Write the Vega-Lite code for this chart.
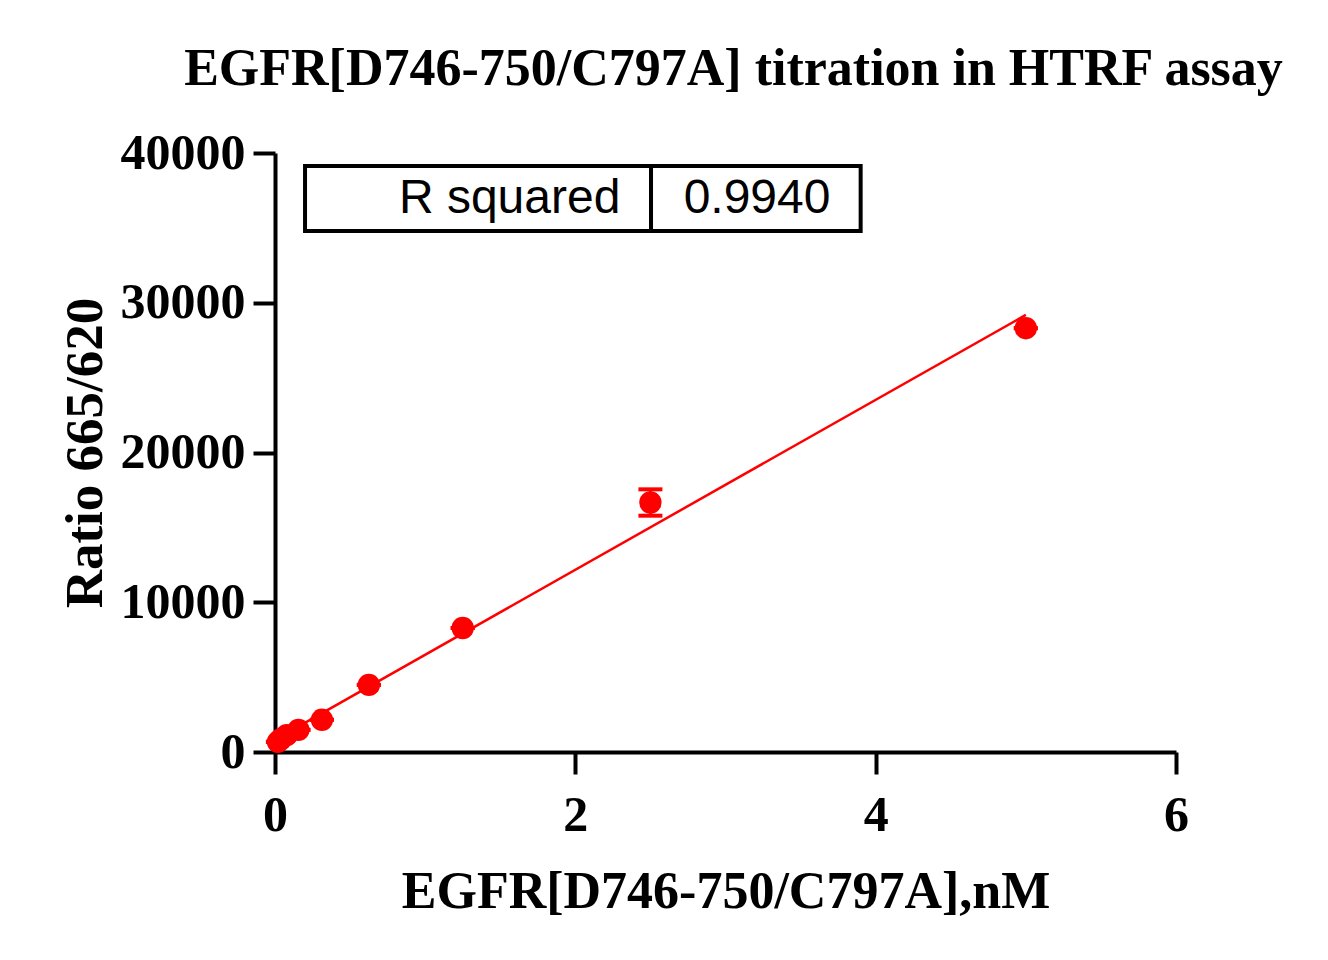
{
  "$schema": "https://vega.github.io/schema/vega-lite/v6.json",
  "autosize": "none",
  "width": 901,
  "height": 599,
  "padding": {"left": 275, "top": 153, "right": 152, "bottom": 208},
  "background": "white",
  "config": {"view": {"stroke": null}},
  "title": {
    "text": "EGFR[D746-750/C797A] titration in HTRF assay",
    "font": "Liberation Serif",
    "fontSize": 52,
    "fontWeight": "bold",
    "color": "black",
    "anchor": "middle",
    "offset": 32,
    "dx": 8
  },
  "datasets": {
    "points": [
      {"conc": 0.0195, "ratio": 680, "lo": 680, "hi": 680},
      {"conc": 0.039, "ratio": 850, "lo": 850, "hi": 850},
      {"conc": 0.078, "ratio": 1130, "lo": 1130, "hi": 1130},
      {"conc": 0.156, "ratio": 1480, "lo": 1480, "hi": 1480},
      {"conc": 0.3125, "ratio": 2150, "lo": 2150, "hi": 2150},
      {"conc": 0.625, "ratio": 4480, "lo": 4480, "hi": 4480},
      {"conc": 1.25, "ratio": 8280, "lo": 8280, "hi": 8280},
      {"conc": 2.5, "ratio": 16660, "lo": 15780, "hi": 17540},
      {"conc": 5, "ratio": 28300, "lo": 28300, "hi": 28300}
    ],
    "fit": [
      {"conc": 0.0195, "ratio": 930},
      {"conc": 5, "ratio": 29190}
    ],
    "box": [
      {"x1": 0.2, "x2": 2.504, "y1": 34790, "y2": 39130},
      {"x1": 2.504, "x2": 3.9, "y1": 34790, "y2": 39130}
    ],
    "labels": [
      {"x": 2.30, "y": 36960, "label": "R squared", "align": "right"},
      {"x": 3.21, "y": 36960, "label": "0.9940", "align": "center"}
    ]
  },
  "layer": [
    {
      "data": {"name": "box"},
      "mark": {"type": "rect", "fill": "white", "stroke": "black", "strokeWidth": 4},
      "encoding": {
        "x": {"field": "x1", "type": "quantitative", "scale": {"domain": [0, 6]}},
        "x2": {"field": "x2"},
        "y": {"field": "y1", "type": "quantitative", "scale": {"domain": [0, 40000]}},
        "y2": {"field": "y2"}
      }
    },
    {
      "data": {"name": "labels"},
      "transform": [{"filter": "datum.align == 'right'"}],
      "mark": {"type": "text", "font": "Liberation Sans", "fontSize": 48, "align": "right", "baseline": "middle", "color": "black"},
      "encoding": {
        "x": {"field": "x", "type": "quantitative"},
        "y": {"field": "y", "type": "quantitative"},
        "text": {"field": "label"}
      }
    },
    {
      "data": {"name": "labels"},
      "transform": [{"filter": "datum.align == 'center'"}],
      "mark": {"type": "text", "font": "Liberation Sans", "fontSize": 48, "align": "center", "baseline": "middle", "color": "black"},
      "encoding": {
        "x": {"field": "x", "type": "quantitative"},
        "y": {"field": "y", "type": "quantitative"},
        "text": {"field": "label"}
      }
    },
    {
      "data": {"name": "fit"},
      "mark": {"type": "line", "color": "#FF0000", "strokeWidth": 2.5, "clip": false},
      "encoding": {
        "x": {"field": "conc", "type": "quantitative"},
        "y": {"field": "ratio", "type": "quantitative"}
      }
    },
    {
      "data": {"name": "points"},
      "mark": {"type": "rule", "color": "#FF0000", "strokeWidth": 3, "opacity": 1},
      "encoding": {
        "x": {"field": "conc", "type": "quantitative"},
        "y": {"field": "lo", "type": "quantitative"},
        "y2": {"field": "hi"}
      }
    },
    {
      "data": {"name": "points"},
      "mark": {"type": "tick", "color": "#FF0000", "orient": "horizontal", "size": 24, "thickness": 4, "opacity": 1},
      "encoding": {
        "x": {"field": "conc", "type": "quantitative"},
        "y": {"field": "lo", "type": "quantitative"}
      }
    },
    {
      "data": {"name": "points"},
      "mark": {"type": "tick", "color": "#FF0000", "orient": "horizontal", "size": 24, "thickness": 4, "opacity": 1},
      "encoding": {
        "x": {"field": "conc", "type": "quantitative"},
        "y": {"field": "hi", "type": "quantitative"}
      }
    },
    {
      "data": {"name": "points"},
      "mark": {"type": "circle", "color": "#FF0000", "opacity": 1, "size": 500, "clip": false},
      "encoding": {
        "x": {
          "field": "conc", "type": "quantitative",
          "scale": {"domain": [0, 6], "nice": false, "zero": false},
          "axis": {
            "title": "EGFR[D746-750/C797A],nM",
            "values": [0, 2, 4, 6],
            "format": "d",
            "grid": false,
            "domainColor": "black", "domainWidth": 4,
            "tickColor": "black", "tickWidth": 4, "tickSize": 22,
            "labelFont": "Liberation Serif", "labelFontSize": 50, "labelFontWeight": "bold", "labelColor": "black",
            "labelPadding": 16, "labelFlush": false,
            "titleFont": "Liberation Serif", "titleFontSize": 52, "titleFontWeight": "bold", "titleColor": "black",
            "titlePadding": 26
          }
        },
        "y": {
          "field": "ratio", "type": "quantitative",
          "scale": {"domain": [0, 40000], "nice": false},
          "axis": {
            "title": "Ratio 665/620",
            "values": [0, 10000, 20000, 30000, 40000],
            "format": "d",
            "grid": false,
            "domainColor": "black", "domainWidth": 4,
            "tickColor": "black", "tickWidth": 4, "tickSize": 22,
            "labelFont": "Liberation Serif", "labelFontSize": 50, "labelFontWeight": "bold", "labelColor": "black",
            "labelPadding": 8, "labelFlush": false,
            "titleFont": "Liberation Serif", "titleFontSize": 53, "titleFontWeight": "bold", "titleColor": "black",
            "titlePadding": 8
          }
        }
      }
    }
  ]
}
